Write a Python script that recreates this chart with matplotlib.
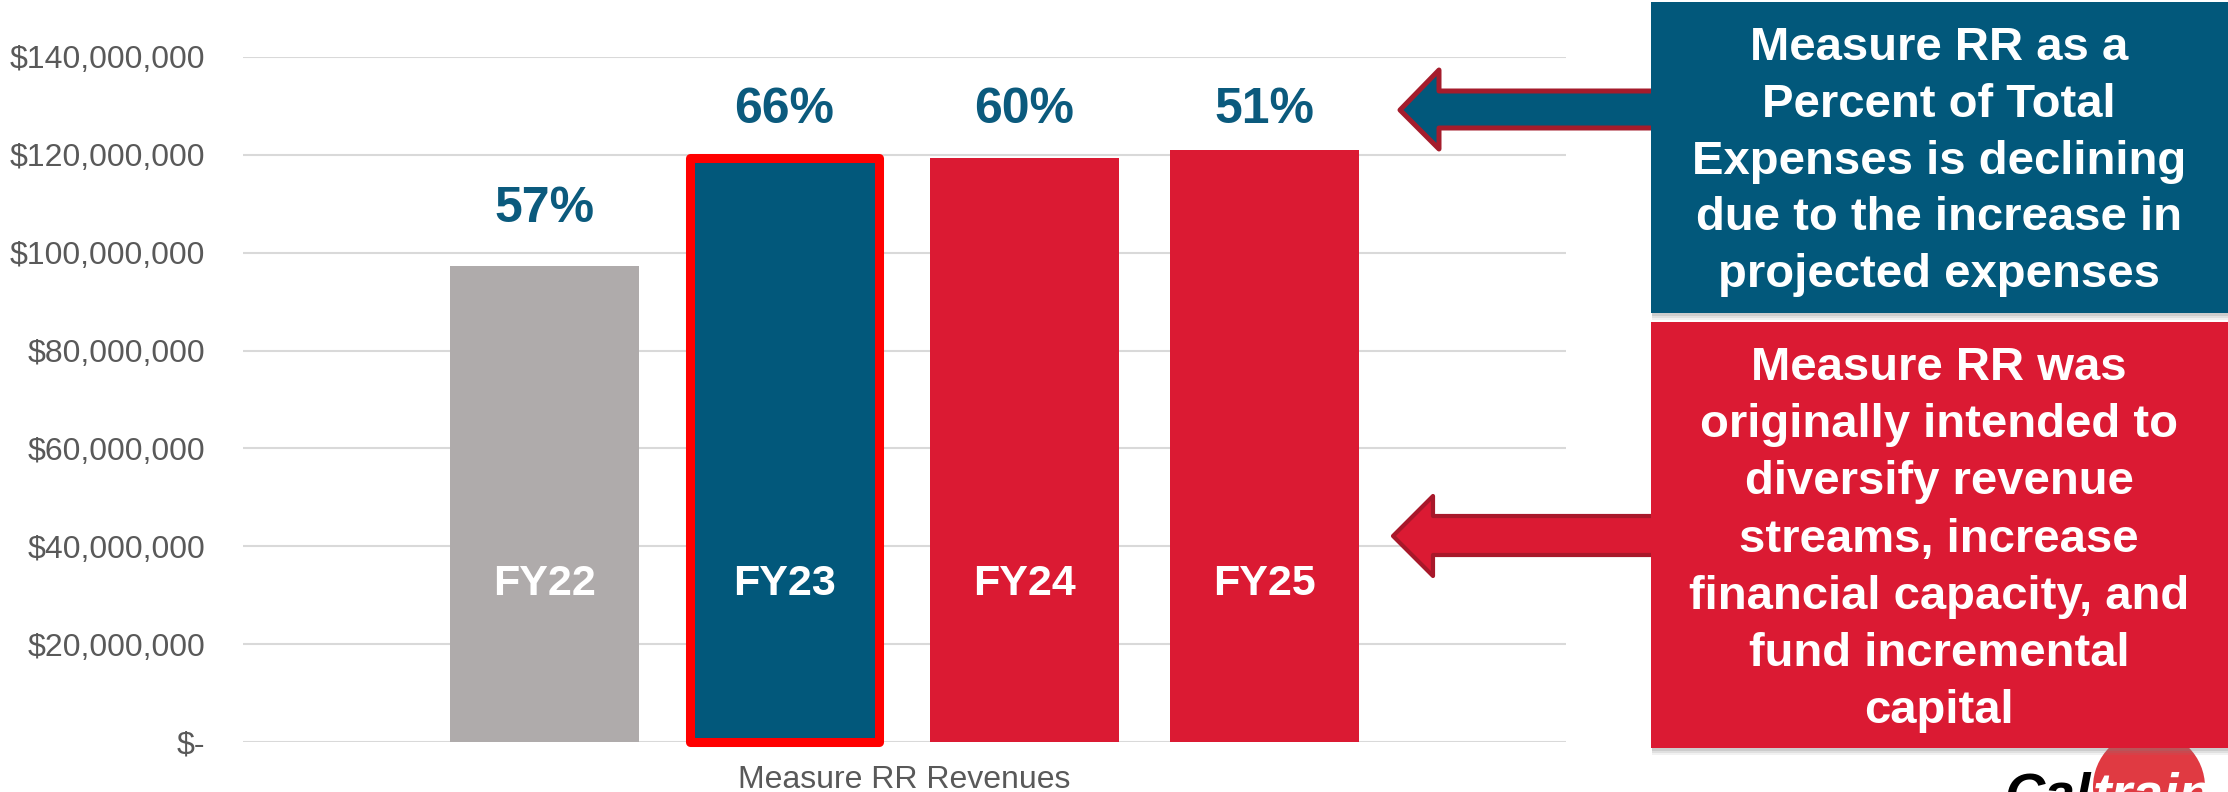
import matplotlib
matplotlib.use('Agg')
import matplotlib.pyplot as plt
import matplotlib.patches as mpatches
import matplotlib.transforms as mtransforms
import numpy as np

# ---------------- data ----------------
years = ['FY22', 'FY23', 'FY24', 'FY25']
revenues = [97.3e6, 119.4e6, 119.4e6, 120.9e6]
pct_of_expenses = ['57%', '66%', '60%', '51%']
category = 'Measure RR Revenues'
y_ticks = [0, 20e6, 40e6, 60e6, 80e6, 100e6, 120e6, 140e6]
blue_note = ['Measure RR as a', 'Percent of Total', 'Expenses is declining',
             'due to the increase in', 'projected expenses']
red_note = ['Measure RR was', 'originally intended to', 'diversify revenue',
            'streams, increase', 'financial capacity, and', 'fund incremental',
            'capital']

# ---------------- style ----------------
FONT = 'Liberation Sans'
GREY = '#AFABAB'
BLUE = '#02587B'
RED = '#DB1A33'
bar_colors = [GREY, BLUE, RED, RED]
pct_gap = [9.0e6, 7.2e6, 7.2e6, 5.7e6]   # label placement above bar tops
PCT_COLOR = '#0B5A7D'
TICK_COLOR = '#595959'

W, H = 2228, 792
fig = plt.figure(figsize=(W / 100, H / 100), dpi=100)
fig.patch.set_facecolor('white')
# pixel coordinates with origin top-left
px = mtransforms.Affine2D().scale(1 / W, -1 / H).translate(0, 1) + fig.transFigure

ax = fig.add_axes([243 / W, 1 - 742 / H, (1566 - 243) / W, (742 - 57) / H])
x = np.arange(len(years))
bars = ax.bar(x, revenues, width=0.79, color=bar_colors, zorder=3)
hl = bars[1]
hl.set_edgecolor('#FF0000')
hl.set_linewidth(6.5)
hl.set_joinstyle('round')
hl.set_clip_on(False)

ax.set_ylim(0, 140e6)
ax.set_xlim(1.5 - 2.756, 1.5 + 2.756)
ax.set_yticks(y_ticks)
ax.set_yticklabels(['$-' if v == 0 else f'${v:,.0f}' for v in y_ticks],
                   fontsize=23, color=TICK_COLOR, family=FONT)
ax.set_xticks([np.mean(x)])
ax.set_xticklabels([category], fontsize=23, color=TICK_COLOR, family=FONT)
ax.tick_params(axis='y', length=0, pad=27)
ax.tick_params(axis='x', length=0, pad=16.5)
ax.yaxis.grid(True, color='#D9D9D9', linewidth=1.5, zorder=0)
ax.set_axisbelow(True)
for s in ax.spines.values():
    s.set_visible(False)

for xi, v, p, yr, g in zip(x, revenues, pct_of_expenses, years, pct_gap):
    ax.text(xi, v + g, p, ha='center', va='baseline', fontsize=36,
            fontweight='bold', color=PCT_COLOR, family=FONT, zorder=5)
    ax.text(xi, 30e6, yr, ha='center', va='baseline', fontsize=31,
            fontweight='bold', color='white', family=FONT, zorder=5)

# ---------------- arrows ----------------
up_arrow = [(1400, 110), (1439, 70), (1439, 91), (1660, 91), (1660, 128),
            (1439, 128), (1439, 149)]
low_arrow = [(1393, 536), (1433, 496), (1433, 516), (1660, 516), (1660, 555),
             (1433, 555), (1433, 576)]
fig.add_artist(mpatches.Polygon(up_arrow, closed=True, transform=px,
                                facecolor=BLUE, edgecolor='#A51C2C',
                                linewidth=3.6, joinstyle='round', zorder=5))
fig.add_artist(mpatches.Polygon(low_arrow, closed=True, transform=px,
                                facecolor=RED, edgecolor='#A8182A',
                                linewidth=3.0, joinstyle='round', zorder=5))

# ---------------- logo (partially visible) ----------------
fig.add_artist(mpatches.Circle((2149, 787), 56, transform=px,
                               facecolor='#E03A42', edgecolor='none', zorder=6))
fig.text(2004, 812, 'Cal', transform=px, fontsize=40, fontweight='bold',
         fontstyle='italic', color='black', family=FONT, ha='left',
         va='baseline', zorder=7)
fig.text(2093, 812, 'train', transform=px, fontsize=40, fontweight='bold',
         fontstyle='italic', color='white', family=FONT, ha='left',
         va='baseline', zorder=7)

# ---------------- note boxes ----------------
def box(x0, y0, x1, y1, color):
    for k, a in zip([7, 5, 3], [0.10, 0.14, 0.2]):
        fig.add_artist(mpatches.Rectangle((x0 + 1, y0 + k), x1 - x0, y1 - y0,
                                          transform=px, facecolor='#7f7f7f',
                                          edgecolor='none', alpha=a, zorder=8))
    fig.add_artist(mpatches.Rectangle((x0, y0), x1 - x0, y1 - y0, transform=px,
                                      facecolor=color, edgecolor='none', zorder=9))

box(1651, 2, 2228, 313, BLUE)
box(1651, 322, 2228, 748, RED)

for i, line in enumerate(blue_note):
    fig.text(1939, 60 + i * 56.8, line, transform=px, fontsize=34,
             fontweight='bold', color='white', family=FONT, ha='center',
             va='baseline', zorder=10)
for i, line in enumerate(red_note):
    fig.text(1939, 380 + i * 57.2, line, transform=px, fontsize=34,
             fontweight='bold', color='white', family=FONT, ha='center',
             va='baseline', zorder=10)

fig.savefig('out.png', dpi=100, facecolor='white')
